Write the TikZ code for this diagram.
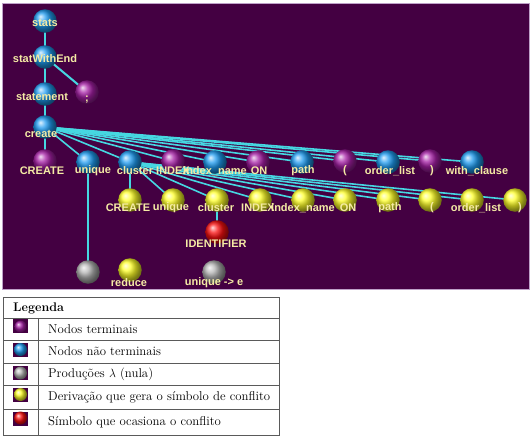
\documentclass[tikz,border=0pt]{standalone}
\usepackage{fontspec}
\newfontfamily\lblfont{Liberation Sans}
\pgfdeclarelayer{bg}
\pgfdeclarelayer{edges}
\pgfsetlayers{bg,edges,main}
\definecolor{bgpurple}{RGB}{68,0,66}
\definecolor{frameline}{RGB}{190,160,200}
\definecolor{edgecyan}{RGB}{70,215,225}
\definecolor{sblue}{RGB}{30,155,240}
\definecolor{spurple}{RGB}{165,30,165}
\definecolor{syellow}{RGB}{255,255,40}
\definecolor{sred}{RGB}{250,15,15}
\definecolor{sgray}{RGB}{180,180,180}
\definecolor{lbltext}{RGB}{245,235,165}
\definecolor{tabline}{RGB}{90,90,90}
\tikzset{
  sph/.style={circle, minimum size=23.5pt, inner sep=0pt, shading=ball},
  nt/.style={sph, ball color=sblue},
  term/.style={sph, ball color=spurple},
  conf/.style={sph, ball color=syellow},
  lam/.style={sph, ball color=sgray},
  err/.style={sph, ball color=sred},
  lbl/.style={font=\lblfont\bfseries\fontsize{11}{12}\selectfont, text=lbltext, inner sep=0pt},
  link/.style={draw=edgecyan, line width=2pt},
  fanlink/.style={draw=edgecyan, line width=1.6pt},
  tabrule/.style={draw=tabline, line width=0.7pt},
  legtext/.style={font=\fontsize{12.8}{14}\selectfont, anchor=west, inner sep=0pt},
  iconbox/.style={fill=bgpurple, draw=none, minimum width=15pt, minimum height=14pt, inner sep=0pt}
}
\begin{document}
\begin{tikzpicture}[x=1pt,y=-1pt]
\useasboundingbox (0,0) rectangle (531,437);
\begin{pgfonlayer}{bg}
  \fill[white] (0,0) rectangle (531,437);
  \fill[bgpurple, draw=frameline, line width=0.8pt] (2.5,3.5) rectangle (529.5,289);
\end{pgfonlayer}

% upper trunk
\node[nt] (stats) at (45,21) {};
\node[nt] (swe) at (45,57) {};
\node[nt] (stmt) at (45,94) {};
\node[term] (semi) at (87,92) {};
\node[nt] (create) at (45,127) {};

% first row (children of create)
\node[term] (aCREATE) at (45,161) {};
\node[nt] (aunique) at (88,162) {};
\node[nt] (acluster) at (130,162) {};
\node[term] (aINDEX) at (173,161) {};
\node[nt] (aindexname) at (215,162) {};
\node[term] (aON) at (258,162) {};
\node[nt] (apath) at (302,162) {};
\node[term] (alpar) at (345,161) {};
\node[nt] (aorder) at (388,162) {};
\node[term] (arpar) at (430,161) {};
\node[nt] (awith) at (472,162) {};

% second row (conflict derivation)
\node[conf] (bCREATE) at (130,200) {};
\node[conf] (bunique) at (173,200) {};
\node[conf] (bcluster) at (217,200) {};
\node[conf] (bINDEX) at (260,200) {};
\node[conf] (bindexname) at (303,200) {};
\node[conf] (bON) at (345,200) {};
\node[conf] (bpath) at (388,200) {};
\node[conf] (blpar) at (430,200) {};
\node[conf] (border) at (472,200) {};
\node[conf] (brpar) at (515,200) {};

\node[err] (ident) at (217,232) {};
\node[lam] (lam1) at (88,272) {};
\node[conf] (reduce) at (130,270) {};
\node[lam] (lam2) at (214,272) {};

\begin{pgfonlayer}{edges}
  \draw[link] (stats.center) -- (swe.center);
  \draw[link] (swe.center) -- (stmt.center);
  \draw[link] (swe.center) -- (semi.center);
  \draw[link] (stmt.center) -- (create.center);
  \foreach \c in {aCREATE,aunique,acluster,aINDEX,aindexname,aON,apath,alpar,aorder,arpar,awith}
    \draw[fanlink] (create.center) -- (\c.center);
  \foreach \c in {bCREATE,bunique,bcluster,bINDEX,bindexname,bON,bpath,blpar,border,brpar}
    \draw[fanlink] (acluster.center) -- (\c.center);
  \draw[link] (bcluster.center) -- (ident.center);
  \draw[link] (aunique.center) -- (lam1.center);
\end{pgfonlayer}

% labels
\node[lbl] (l-stats) at (45,23) {stats};
\node[lbl] (l-swe) at (45,59) {statWithEnd};
\node[lbl] (l-stmt) at (42,97) {statement};
\node[lbl] (l-semi) at (87,100) {;};
\node[lbl] (l-create) at (41,134) {create};
\foreach \n/\x/\t in {aCREATE/42/CREATE, aunique/93/unique, acluster/135/cluster, aINDEX/173/INDEX, aindexname/215/index\_name, aON/259/ON, apath/303/path, alpar/345/(, aorder/390/order\_list, arpar/432/), awith/477/with\_clause}
  \node[lbl] (l-\n) at (\x,171) {\t};
\foreach \n/\x/\t in {bCREATE/128/CREATE, bunique/171/unique, bcluster/216/cluster, bINDEX/258/INDEX, bindexname/303/index\_name, bON/348/ON, bpath/390/path, blpar/432/(, border/476/order\_list, brpar/520/)}
  \node[lbl] (l-\n) at (\x,208) {\t};
\node[lbl] (l-ident) at (216,244) {IDENTIFIER};
\node[lbl] (l-reduce) at (129,283) {reduce};
\node[lbl] (l-lam2) at (214,283) {unique -> e};

% legend table
\draw[tabrule] (3,297) rectangle (279,435);
\foreach \yy in {318,340,363,385,409}
  \draw[tabrule] (3,\yy) -- (279,\yy);
\draw[tabrule] (38.5,318) -- (38.5,435);
\node[legtext, font=\fontsize{12.5}{14}\selectfont\bfseries] (leghead) at (13,308) {Legenda};
\node[legtext] (leg1) at (48,329) {Nodos terminais};
\node[legtext] (leg2) at (48,351.5) {Nodos não terminais};
\node[legtext] (leg3) at (48,374) {Produções $\lambda$ (nula)};
\node[legtext] (leg4) at (48,397) {Derivação que gera o símbolo de conflito};
\node[legtext] (leg5) at (48,422) {Símbolo que ocasiona o conflito};

% legend icons
\node[iconbox] (ic1) at (20.5,326) {};
\shade[ball color=spurple] (20.5,326.5) circle (6);
\node[iconbox] (ic2) at (20.5,350) {};
\shade[ball color=sblue] (20.5,349.5) circle (6.5);
\node[iconbox] (ic3) at (20.5,372.5) {};
\shade[ball color=sgray] (20.5,373) circle (6.5);
\node[iconbox] (ic4) at (20.5,395) {};
\shade[ball color=syellow] (20.5,394.5) circle (6.5);
\node[iconbox] (ic5) at (20.5,418.5) {};
\shade[ball color=sred] (20.5,418) circle (6.5);
\end{tikzpicture}
\end{document}
